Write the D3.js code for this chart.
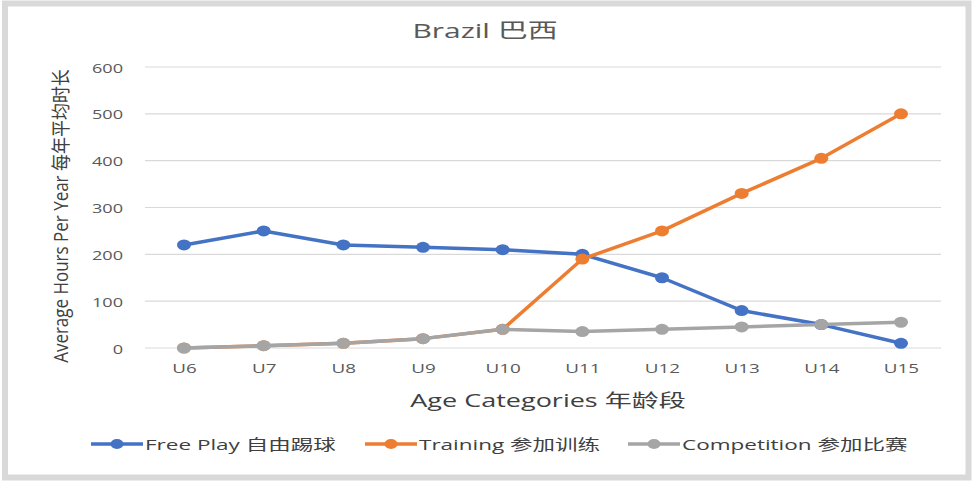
<!DOCTYPE html>
<html><head><meta charset="utf-8">
<script src="https://cdn.jsdelivr.net/npm/d3@7"></script>
<style>
html,body{margin:0;padding:0;background:#fff;}
svg{display:block;}
text{font-family:"Open Sans","Noto Sans CJK SC",sans-serif;}
</style></head>
<body><svg id="c" width="974" height="481"></svg>
<script>
const title = "Brazil 巴西";
const categories = ["U6","U7","U8","U9","U10","U11","U12","U13","U14","U15"];
const freePlay = [220,250,220,215,210,200,150,80,50,10];
const training = [0,5,10,20,40,190,250,330,405,500];
const competition = [0,5,10,20,40,35,40,45,50,55];
const yTicks = [0,100,200,300,400,500,600];
const seriesNames = ["Free Play 自由踢球","Training 参加训练","Competition 参加比赛"];
const xTitle = "Age Categories 年龄段";
const yTitle = "Average Hours Per Year 每年平均时长";

(function(){
const colors = ["#4472c4","#ed7d31","#a5a5a5"];
const seriesData = [freePlay, training, competition];

const svg = d3.select("#c");
svg.append("rect").attr("x",0).attr("y",0).attr("width",974).attr("height",481).attr("fill","#fff");
svg.append("rect").attr("x",5).attr("y",3.5).attr("width",963.5).attr("height",474).attr("fill","none")
  .attr("stroke","#d9d9d9").attr("stroke-width",6);

const pL=145, pR=941, pT=67, pB=348;
const x = d3.scalePoint().domain(categories).range([184,901]);
const y = d3.scaleLinear().domain([0,600]).range([pB,pT]);

function sText(sel, tx, ty, sx, str, size, anchor, fill){
  return sel.append("text").attr("transform",`translate(${tx},${ty}) scale(${sx},1)`)
    .attr("text-anchor",anchor).attr("font-size",size).attr("fill",fill).text(str);
}

svg.append("g").selectAll("line").data(yTicks).join("line")
  .attr("x1",pL).attr("x2",pR).attr("y1",d=>y(d)).attr("y2",d=>y(d))
  .attr("stroke","#d9d9d9").attr("stroke-width",1.2);

const yAxis = svg.append("g").attr("transform",`translate(${pL},0)`)
  .call(d3.axisLeft(y).tickValues(yTicks).tickSize(0).tickPadding(0));
yAxis.select(".domain").remove();
yAxis.selectAll(".tick text").remove();
yAxis.selectAll(".tick").each(function(d){
  sText(d3.select(this), -22, 5, 1.45, String(d), 12.5, "end", "#595959");
});

const xAxis = svg.append("g").attr("transform",`translate(0,${pB})`)
  .call(d3.axisBottom(x).tickSize(0));
xAxis.select(".domain").remove();
xAxis.selectAll(".tick text").remove();
xAxis.selectAll(".tick").each(function(d){
  sText(d3.select(this), 0, 25, 1.45, d, 13, "middle", "#595959");
});

const line = d3.line().x((d,i)=>x(categories[i])).y(d=>y(d));
seriesData.forEach((s,k)=>{
  svg.append("path").datum(s).attr("d",line).attr("fill","none")
    .attr("stroke",colors[k]).attr("stroke-width",3.5).attr("stroke-linejoin","round");
  svg.append("g").selectAll("ellipse").data(s).join("ellipse")
    .attr("cx",(d,i)=>x(categories[i])).attr("cy",d=>y(d))
    .attr("rx",7).attr("ry",5.5).attr("fill",colors[k]);
});

sText(svg, 485, 38, 1.5, title, 20, "middle", "#595959");
sText(svg, 548, 407, 1.5, xTitle, 18, "middle", "#404040");
svg.append("text").attr("transform","translate(68,216) rotate(-90) scale(1,1.15)")
  .attr("text-anchor","middle").attr("font-size",17).attr("fill","#404040").text(yTitle);

const legX = [91,365,628];
seriesNames.forEach((n,k)=>{
  const g = svg.append("g").attr("transform",`translate(${legX[k]},444)`);
  g.append("line").attr("x1",0).attr("x2",52).attr("y1",0).attr("y2",0)
    .attr("stroke",colors[k]).attr("stroke-width",3.5);
  g.append("ellipse").attr("cx",26).attr("cy",0).attr("rx",6.5).attr("ry",5).attr("fill",colors[k]);
  sText(g, 54, 6, 1.5, n, 15, "start", "#404040");
});
})();
</script></body></html>
